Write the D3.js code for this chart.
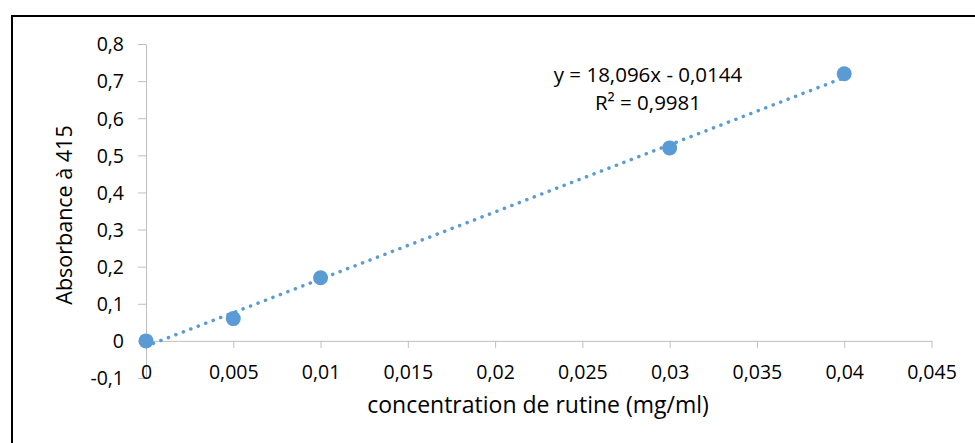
<!DOCTYPE html>
<html>
<head>
<meta charset="utf-8">
<script src="https://cdn.jsdelivr.net/npm/d3@7"></script>
<style>
  body { margin: 0; background: #fff; }
  svg { display: block; font-family: "Open Sans", sans-serif; }
  .axis path, .axis line { stroke: #bfbfbf; }
  .axis text { fill: #000; font-size: 19.5px; font-family: "Open Sans", sans-serif; }
</style>
</head>
<body>
<svg id="chart"></svg>
<script>
// data
const concentrations = [0, 0.005, 0.01, 0.03, 0.04];
const absorbances = [0, 0.06, 0.17, 0.52, 0.72];
const xTicks = [0, 0.005, 0.01, 0.015, 0.02, 0.025, 0.03, 0.035, 0.04, 0.045];
const yTicks = [-0.1, 0, 0.1, 0.2, 0.3, 0.4, 0.5, 0.6, 0.7, 0.8];
const slope = 18.096;
const intercept = -0.0144;
const equationLines = ["y = 18,096x - 0,0144", "R² = 0,9981"];

const width = 975;
const height = 443;
const blue = "#5b9bd5";

const svg = d3.select("#chart")
    .attr("width", width)
    .attr("height", height);

// frame (only top and left are visible)
svg.append("path")
    .attr("d", `M12,${height} V16 H${width}`)
    .attr("fill", "none")
    .attr("stroke", "#000")
    .attr("stroke-width", 2);

const x = d3.scaleLinear().domain([0, 0.045]).range([146, 931.5]);
const y = d3.scaleLinear().domain([-0.1, 0.8]).range([378, 44]);

// comma decimals, plain hyphen for negatives
const fmt = (d) => String(+d.toFixed(4)).replace(".", ",");

// y axis
const yAxis = svg.append("g")
    .attr("class", "axis")
    .attr("transform", `translate(${x(0)},0)`)
    .call(d3.axisLeft(y).tickValues(yTicks).tickSize(8).tickSizeOuter(0).tickFormat(fmt).tickPadding(14));
yAxis.selectAll("text").attr("dy", "0.35em");

// x axis at y = 0, labels at the bottom
const xAxis = svg.append("g")
    .attr("class", "axis")
    .attr("transform", `translate(0,${y(0)})`)
    .call(d3.axisBottom(x).tickValues(xTicks).tickSize(7).tickSizeOuter(0).tickFormat(fmt));
xAxis.selectAll("text")
    .attr("y", y(-0.1) - y(0) - 6)
    .attr("dy", "0.35em");

// axis titles
svg.append("text")
    .attr("x", 538)
    .attr("y", 405)
    .attr("text-anchor", "middle")
    .attr("dy", "0.35em")
    .attr("font-size", 23)
    .text("concentration de rutine (mg/ml)");

svg.append("text")
    .attr("transform", "translate(64,215) rotate(-90)")
    .attr("text-anchor", "middle")
    .attr("dy", "0.35em")
    .attr("font-size", 21.5)
    .text("Absorbance à 415");

// linear trend line (dotted)
const xMin = d3.min(concentrations), xMax = d3.max(concentrations);
svg.append("line")
    .attr("x1", x(xMin))
    .attr("y1", y(slope * xMin + intercept))
    .attr("x2", x(xMax))
    .attr("y2", y(slope * xMax + intercept))
    .attr("stroke", blue)
    .attr("stroke-width", 3.5)
    .attr("stroke-linecap", "round")
    .attr("stroke-dasharray", "0.1 7.9");

// points
svg.selectAll(".pt")
    .data(concentrations.map((c, i) => ({ c, a: absorbances[i] })))
    .enter()
    .append("circle")
    .attr("class", "pt")
    .attr("cx", (d) => x(d.c))
    .attr("cy", (d) => y(d.a))
    .attr("r", 7.5)
    .attr("fill", blue);

// equation label
svg.selectAll(".eq")
    .data(equationLines)
    .enter()
    .append("text")
    .attr("class", "eq")
    .attr("x", 648)
    .attr("y", (d, i) => 75 + i * 28)
    .attr("text-anchor", "middle")
    .attr("dy", "0.35em")
    .attr("font-size", 20.5)
    .text((d) => d);
</script>
</body>
</html>
